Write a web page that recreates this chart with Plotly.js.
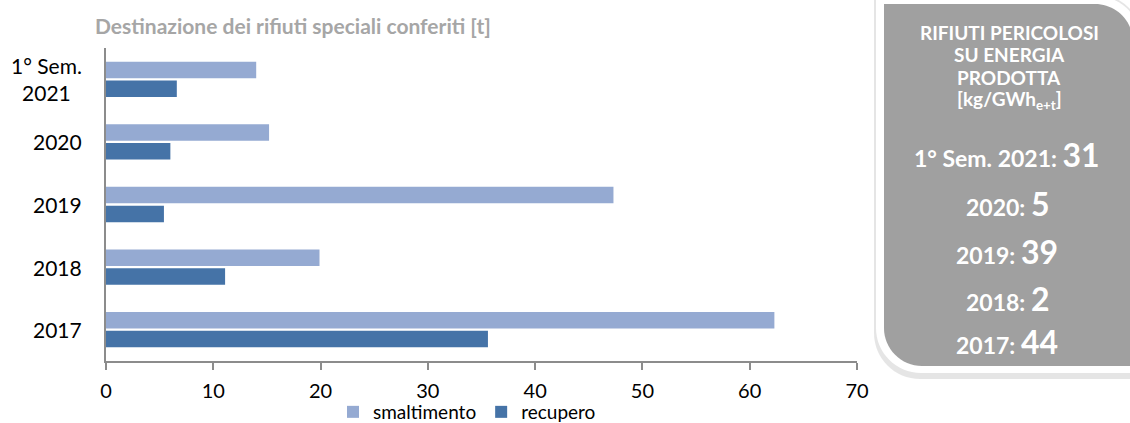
<!DOCTYPE html>
<html>
<head>
<meta charset="utf-8">
<script src="https://cdn.plot.ly/plotly-3.0.1.min.js"></script>
<style>
  html, body { margin: 0; padding: 0; background: #fff; }
  #chart { width: 1130px; height: 423px; }
</style>
</head>
<body>
<div id="chart"></div>
<script>
// Categories (bottom to top) and tonnes per destination
const categories = ['2017', '2018', '2019', '2020', '1° Sem.<br>2021'];
const smaltimento = [62.3, 19.9, 47.3, 15.2, 14.0];
const recupero = [35.6, 11.1, 5.4, 6.0, 6.6];
const seriesNames = ['smaltimento', 'recupero'];
const xTicks = [0, 10, 20, 30, 40, 50, 60, 70];

const chartTitle = 'Destinazione dei rifiuti speciali conferiti [t]';

// Side panel: hazardous waste per energy produced
const panelHeader = ['RIFIUTI PERICOLOSI', 'SU ENERGIA', 'PRODOTTA', '[kg/GWh<sub>e+t</sub>]'];
const panelLabels = ['1° Sem. 2021', '2020', '2019', '2018', '2017'];
const panelValues = [31, 5, 39, 2, 44];

// Plot area in pixels
const W = 1130, H = 423;
const M = { l: 106, r: 273, t: 48, b: 62 };
const PW = W - M.l - M.r, PH = H - M.t - M.b;
const px = x => (x - M.l) / PW;
const py = y => (H - M.b - y) / PH;

// Rounded rectangle (top-right and bottom-left corners rounded), pixel input
function panelPath(x0, y0, x1, y1, r) {
  const k = 0.5523 * r;
  const P = (x, y) => px(x).toFixed(5) + ',' + py(y).toFixed(5);
  return 'M' + P(x0, y0) +
    ' L' + P(x1 - r, y0) +
    ' C' + P(x1 - r + k, y0) + ' ' + P(x1, y0 + r - k) + ' ' + P(x1, y0 + r) +
    ' L' + P(x1, y1) +
    ' L' + P(x0 + r, y1) +
    ' C' + P(x0 + r - k, y1) + ' ' + P(x0, y1 - r + k) + ' ' + P(x0, y1 - r) +
    ' Z';
}

const FONT = 'Lato, "Open Sans", sans-serif';

const traces = [
  {
    type: 'bar', orientation: 'h', name: seriesNames[1],
    y: categories, x: recupero,
    marker: { color: '#4573a7', line: { width: 0 } },
    hoverinfo: 'x+name'
  },
  {
    type: 'bar', orientation: 'h', name: seriesNames[0],
    y: categories, x: smaltimento,
    marker: { color: '#95aad2', line: { width: 0 } },
    hoverinfo: 'x+name'
  }
];

const shapes = [
  { type: 'path', xref: 'paper', yref: 'paper', layer: 'below',
    path: panelPath(874, -6, 1142, 379, 46),
    fillcolor: 'rgba(0,0,0,0.10)', line: { width: 0 } },
  { type: 'path', xref: 'paper', yref: 'paper', layer: 'below',
    path: panelPath(876, -4, 1141, 373, 45),
    fillcolor: '#ffffff', line: { width: 0 } },
  { type: 'path', xref: 'paper', yref: 'paper', layer: 'below',
    path: panelPath(884, 4, 1133, 366, 38),
    fillcolor: '#a0a0a0', line: { width: 0 } }
];

const annotations = [];

// Chart title
annotations.push({
  xref: 'paper', yref: 'paper', x: px(93), y: py(25),
  xanchor: 'left', yanchor: 'middle', showarrow: false,
  text: '<b>' + chartTitle + '</b>',
  font: { family: FONT, size: 21, color: '#a6a6a6' }
});

// Category labels, each line centred (placed by category index)
categories.forEach((c, i) => {
  annotations.push({
    xref: 'paper', yref: 'y', x: 0, y: i, xshift: -22,
    xanchor: 'right', yanchor: 'middle', align: 'center', showarrow: false,
    text: c, font: { family: FONT, size: 21, color: '#000000' }
  });
});

// Panel header lines
const headerY = [33, 55, 77, 100];
panelHeader.forEach((t, i) => {
  annotations.push({
    xref: 'paper', yref: 'paper', x: px(1009), y: py(headerY[i]),
    xanchor: 'center', yanchor: 'middle', showarrow: false,
    text: '<b>' + t + '</b>',
    font: { family: FONT, size: 19, color: '#ffffff' }
  });
});

// Panel values
const valueY = [154, 203, 251, 298, 341];
panelLabels.forEach((lab, i) => {
  annotations.push({
    xref: 'paper', yref: 'paper', x: px(1007), y: py(valueY[i]),
    xanchor: 'center', yanchor: 'middle', showarrow: false,
    text: '<b>' + lab + ': <span style="font-size:32px">' + panelValues[i] + '</span></b>',
    font: { family: FONT, size: 23, color: '#ffffff' }
  });
});

const layout = {
  width: W, height: H,
  margin: Object.assign({ autoexpand: false }, M),
  paper_bgcolor: '#ffffff', plot_bgcolor: '#ffffff',
  barmode: 'group', bargap: 0.4, bargroupgap: 0.12,
  font: { family: FONT, color: '#000000' },
  showlegend: true,
  legend: {
    orientation: 'h', traceorder: 'reversed',
    x: px(467), xanchor: 'center', y: py(412), yanchor: 'middle',
    font: { family: FONT, size: 19, color: '#000000' },
    itemwidth: 30, bgcolor: 'rgba(0,0,0,0)'
  },
  xaxis: {
    range: [0, 70], tickvals: xTicks, ticktext: xTicks.map(String),
    showgrid: false, zeroline: false,
    showline: true, linecolor: '#8c8c8c', linewidth: 2,
    ticks: 'outside', ticklen: 7, tickwidth: 2, tickcolor: '#8c8c8c',
    ticklabelstandoff: 4,
    tickfont: { family: FONT, size: 20, color: '#000000' },
    fixedrange: true
  },
  yaxis: {
    type: 'category', categoryorder: 'array', categoryarray: categories,
    range: [-0.5, categories.length - 0.5],
    showticklabels: false, ticks: '',
    showgrid: false, zeroline: false,
    showline: true, linecolor: '#8c8c8c', linewidth: 2,
    fixedrange: true
  },
  shapes: shapes,
  annotations: annotations
};

Plotly.newPlot('chart', traces, layout, { displayModeBar: false, staticPlot: true });
</script>
</body>
</html>
